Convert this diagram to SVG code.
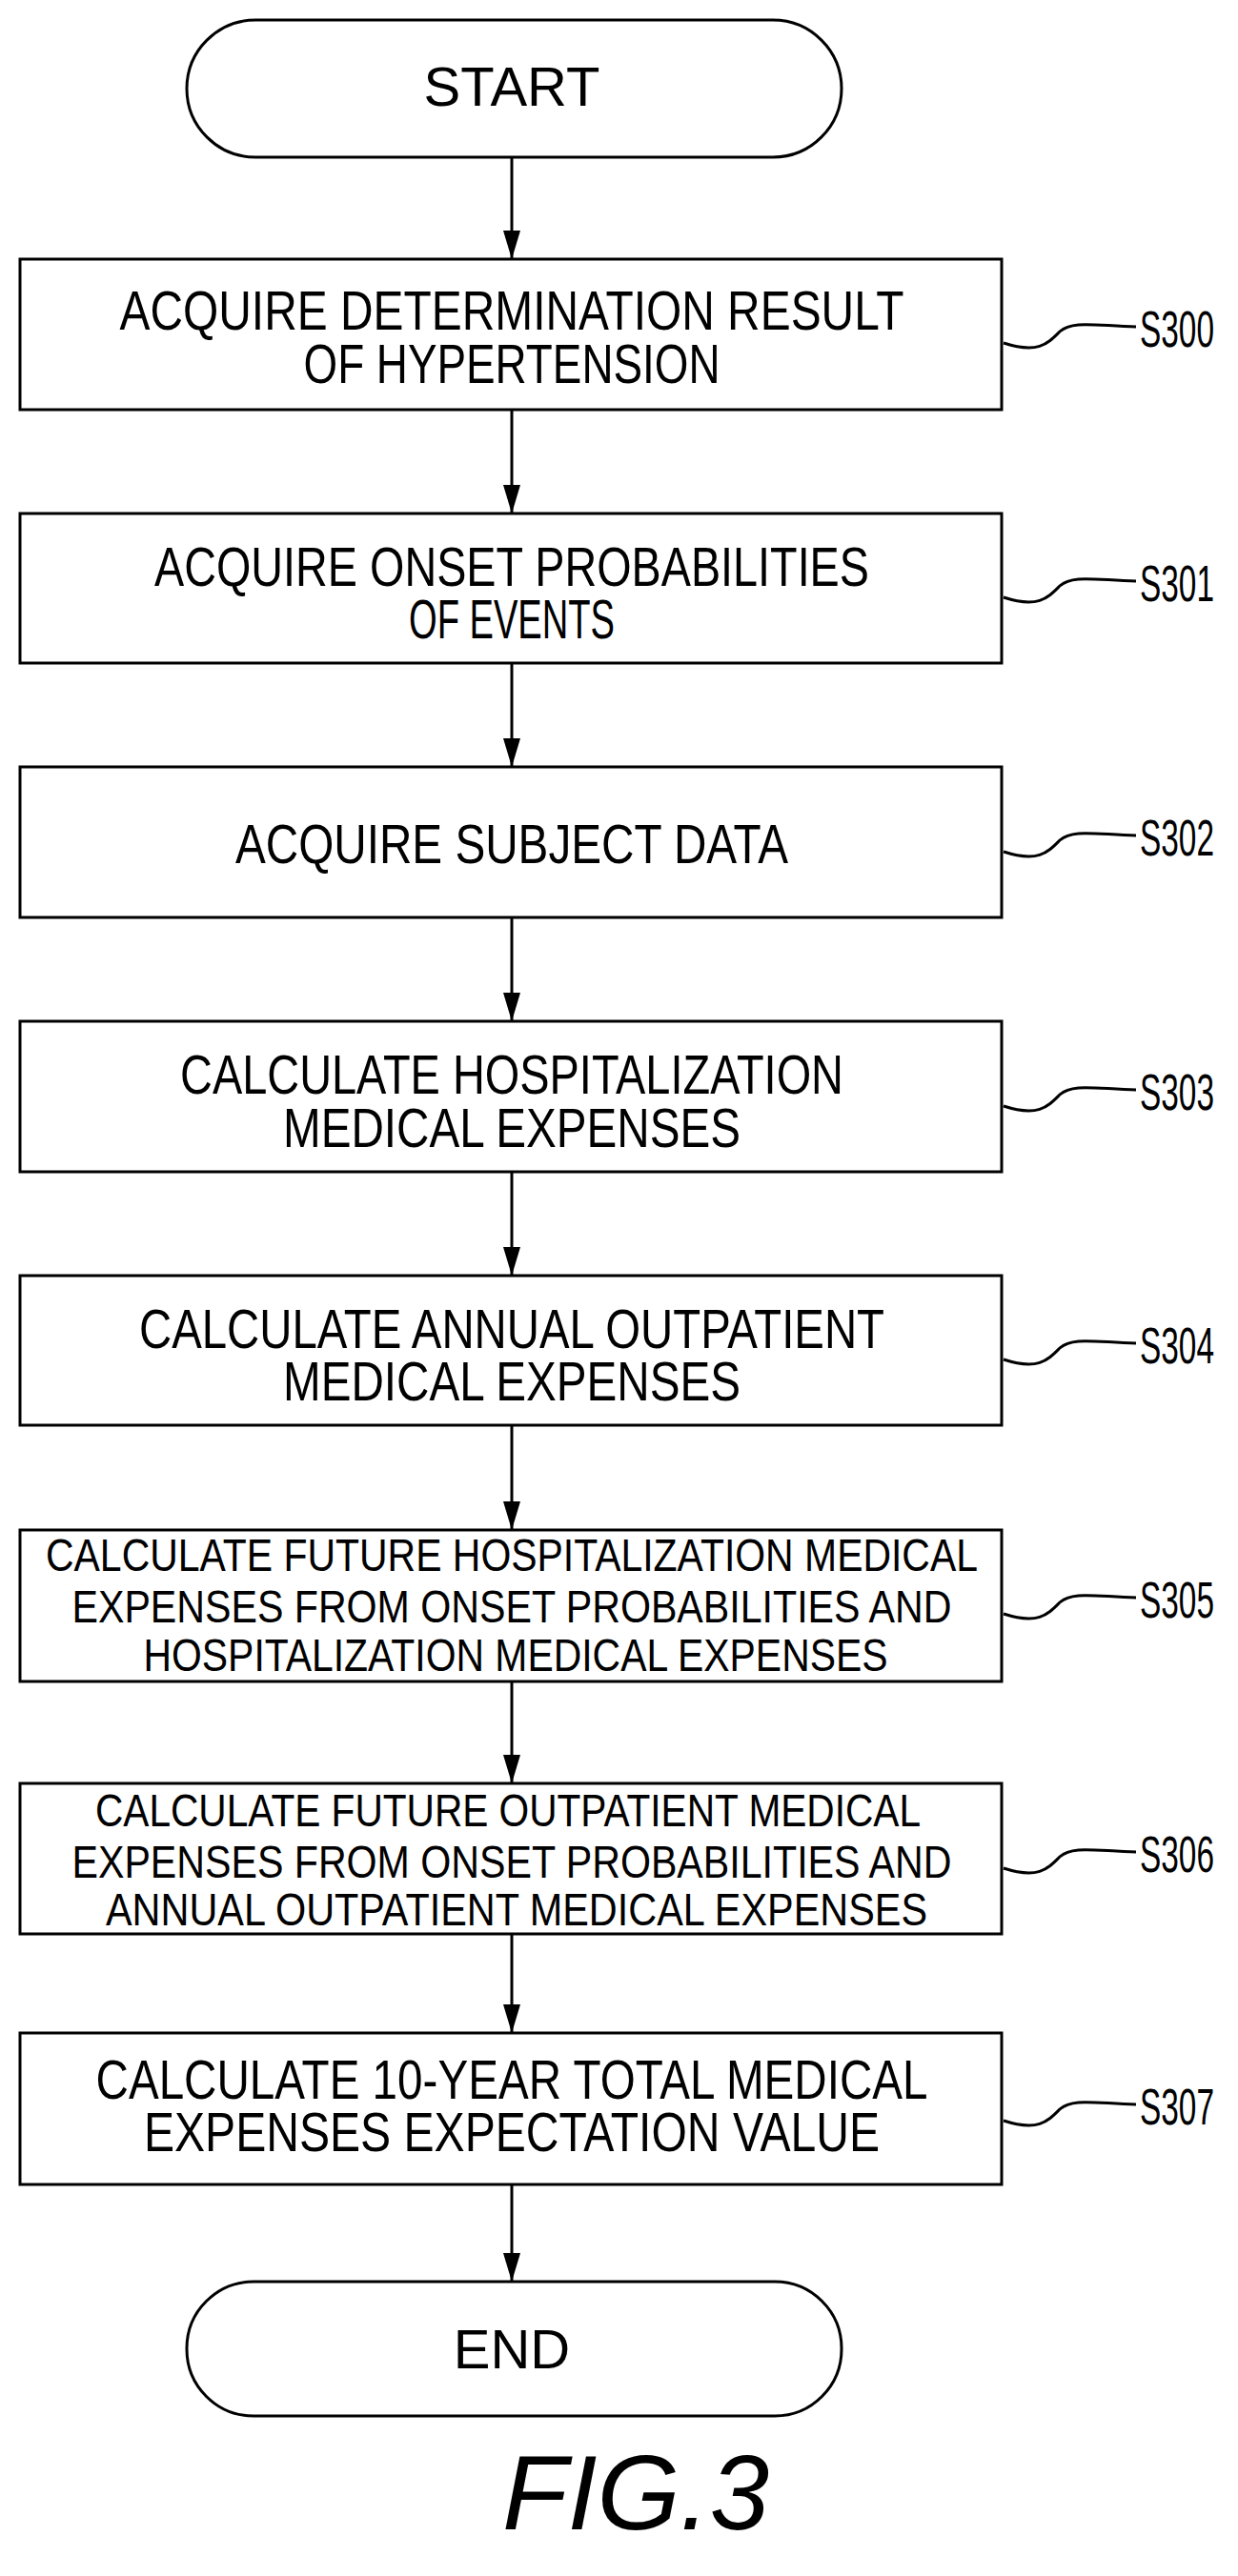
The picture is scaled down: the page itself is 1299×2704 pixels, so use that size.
<svg xmlns="http://www.w3.org/2000/svg" width="1299" height="2704" viewBox="0 0 1299 2704">
<style>
.b{fill:#fff;stroke:#000;stroke-width:3}
.t{font-family:"Liberation Sans",Arial,sans-serif;font-size:58px;fill:#000;text-anchor:middle}
.s{font-size:48px}
.l{font-family:"Liberation Sans",Arial,sans-serif;font-size:54px;fill:#000}
.c{fill:none;stroke:#000;stroke-width:3}
</style>
<defs>
<marker id="ar" viewBox="0 0 30 18" refX="30" refY="9" markerWidth="30" markerHeight="18" orient="auto" markerUnits="userSpaceOnUse"><path d="M0,0L30,9L0,18z"/></marker></defs>
<g id="connectors">
<line class="c" x1="537" y1="165" x2="537" y2="272" marker-end="url(#ar)"/>
<line class="c" x1="537" y1="430" x2="537" y2="539" marker-end="url(#ar)"/>
<line class="c" x1="537" y1="696" x2="537" y2="805" marker-end="url(#ar)"/>
<line class="c" x1="537" y1="963" x2="537" y2="1072" marker-end="url(#ar)"/>
<line class="c" x1="537" y1="1230" x2="537" y2="1339" marker-end="url(#ar)"/>
<line class="c" x1="537" y1="1496" x2="537" y2="1606" marker-end="url(#ar)"/>
<line class="c" x1="537" y1="1765" x2="537" y2="1872" marker-end="url(#ar)"/>
<line class="c" x1="537" y1="2030" x2="537" y2="2134" marker-end="url(#ar)"/>
<line class="c" x1="537" y1="2293" x2="537" y2="2395" marker-end="url(#ar)"/>
</g>
<g id="start"><rect class="b" x="196" y="21" width="687" height="144" rx="72"/><text class="t" x="537" y="111">START</text></g>
<g id="S300"><rect class="b" x="21" y="272" width="1030" height="158"/>
<text class="t" x="537" y="346" textLength="823" lengthAdjust="spacingAndGlyphs">ACQUIRE DETERMINATION  RESULT</text>
<text class="t" x="537" y="402" textLength="437" lengthAdjust="spacingAndGlyphs">OF HYPERTENSION</text></g>
<g id="S301"><rect class="b" x="21" y="539" width="1030" height="157"/>
<text class="t" x="537" y="615" textLength="750" lengthAdjust="spacingAndGlyphs">ACQUIRE  ONSET PROBABILITIES</text>
<text class="t" x="537" y="670" textLength="216" lengthAdjust="spacingAndGlyphs">OF EVENTS</text></g>
<g id="S302"><rect class="b" x="21" y="805" width="1030" height="158"/>
<text class="t" x="537" y="906" textLength="580" lengthAdjust="spacingAndGlyphs">ACQUIRE  SUBJECT DATA</text></g>
<g id="S303"><rect class="b" x="21" y="1072" width="1030" height="158"/>
<text class="t" x="537" y="1148" textLength="696" lengthAdjust="spacingAndGlyphs">CALCULATE HOSPITALIZATION</text>
<text class="t" x="537" y="1204" textLength="480" lengthAdjust="spacingAndGlyphs">MEDICAL EXPENSES</text></g>
<g id="S304"><rect class="b" x="21" y="1339" width="1030" height="157"/>
<text class="t" x="537" y="1415" textLength="782" lengthAdjust="spacingAndGlyphs">CALCULATE ANNUAL OUTPATIENT</text>
<text class="t" x="537" y="1470" textLength="480" lengthAdjust="spacingAndGlyphs">MEDICAL EXPENSES</text></g>
<g id="S305"><rect class="b" x="21" y="1606" width="1030" height="159"/>
<text class="t s" x="537" y="1649" textLength="978" lengthAdjust="spacingAndGlyphs">CALCULATE  FUTURE  HOSPITALIZATION  MEDICAL</text>
<text class="t s" x="537" y="1703" textLength="923" lengthAdjust="spacingAndGlyphs">EXPENSES FROM ONSET PROBABILITIES  AND</text>
<text class="t s" x="541" y="1754" textLength="781" lengthAdjust="spacingAndGlyphs">HOSPITALIZATION  MEDICAL EXPENSES</text></g>
<g id="S306"><rect class="b" x="21" y="1872" width="1030" height="158"/>
<text class="t s" x="533" y="1917" textLength="866" lengthAdjust="spacingAndGlyphs">CALCULATE  FUTURE  OUTPATIENT  MEDICAL</text>
<text class="t s" x="537" y="1971" textLength="923" lengthAdjust="spacingAndGlyphs">EXPENSES FROM ONSET PROBABILITIES  AND</text>
<text class="t s" x="542" y="2021" textLength="862" lengthAdjust="spacingAndGlyphs">ANNUAL OUTPATIENT  MEDICAL EXPENSES</text></g>
<g id="S307"><rect class="b" x="21" y="2134" width="1030" height="159"/>
<text class="t" x="537" y="2203" textLength="873" lengthAdjust="spacingAndGlyphs">CALCULATE 10-YEAR TOTAL MEDICAL</text>
<text class="t" x="537" y="2258" textLength="772" lengthAdjust="spacingAndGlyphs">EXPENSES EXPECTATION  VALUE</text></g>
<g id="end"><rect class="b" x="196" y="2395" width="687" height="141" rx="70"/><text class="t" x="537" y="2486">END</text></g>
<g id="labels">
<path class="c" d="M1053 360 C1090 372 1100 360 1112 348 C1125 336 1150 342 1192 343"/><text class="l" x="1196" y="364" textLength="78" lengthAdjust="spacingAndGlyphs">S300</text>
<path class="c" d="M1053 627 C1090 639 1100 627 1112 615 C1125 603 1150 609 1192 610"/><text class="l" x="1196" y="631" textLength="78" lengthAdjust="spacingAndGlyphs">S301</text>
<path class="c" d="M1053 894 C1090 906 1100 894 1112 882 C1125 870 1150 876 1192 877"/><text class="l" x="1196" y="898" textLength="78" lengthAdjust="spacingAndGlyphs">S302</text>
<path class="c" d="M1053 1161 C1090 1173 1100 1161 1112 1149 C1125 1137 1150 1143 1192 1144"/><text class="l" x="1196" y="1165" textLength="78" lengthAdjust="spacingAndGlyphs">S303</text>
<path class="c" d="M1053 1427 C1090 1439 1100 1427 1112 1415 C1125 1403 1150 1409 1192 1410"/><text class="l" x="1196" y="1431" textLength="78" lengthAdjust="spacingAndGlyphs">S304</text>
<path class="c" d="M1053 1694 C1090 1706 1100 1694 1112 1682 C1125 1670 1150 1676 1192 1677"/><text class="l" x="1196" y="1698" textLength="78" lengthAdjust="spacingAndGlyphs">S305</text>
<path class="c" d="M1053 1961 C1090 1973 1100 1961 1112 1949 C1125 1937 1150 1943 1192 1944"/><text class="l" x="1196" y="1965" textLength="78" lengthAdjust="spacingAndGlyphs">S306</text>
<path class="c" d="M1053 2226 C1090 2238 1100 2226 1112 2214 C1125 2202 1150 2208 1192 2209"/><text class="l" x="1196" y="2230" textLength="78" lengthAdjust="spacingAndGlyphs">S307</text>
</g>
<text x="667" y="2655" font-family="Liberation Sans,Arial,sans-serif" font-size="112" font-style="italic" text-anchor="middle">FIG.3</text>
</svg>
